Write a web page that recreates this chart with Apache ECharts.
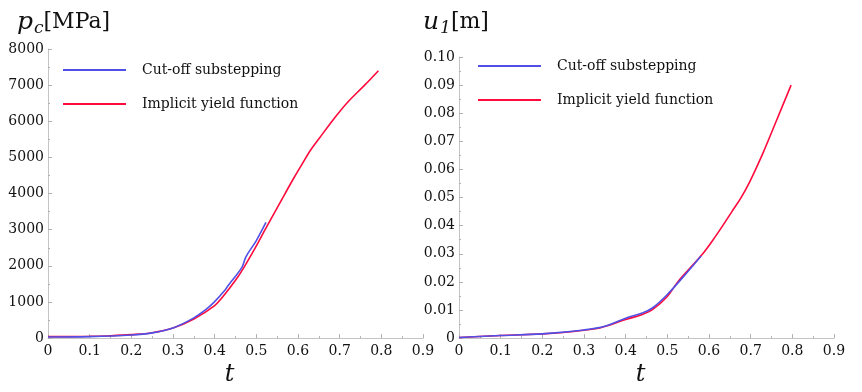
<!DOCTYPE html>
<html>
<head>
<meta charset="utf-8">
<script src="https://cdn.jsdelivr.net/npm/echarts@6/dist/echarts.min.js"></script>
<style>
  html, body { margin: 0; padding: 0; background: #fff; }
  #chart { width: 862px; height: 392px; }
</style>
</head>
<body>
<div id="chart"></div>
<script>
// 左图：p_c [MPa]
const pcImplicitT = [0, 0.05, 0.1, 0.15, 0.2, 0.25, 0.3, 0.35, 0.4, 0.42, 0.45, 0.47, 0.5, 0.521, 0.545, 0.569, 0.59, 0.61, 0.63, 0.653, 0.685, 0.717, 0.76, 0.793];
const pcImplicitV = [40, 42, 50, 65, 95, 150, 280, 530, 900, 1150, 1600, 1950, 2550, 3000, 3500, 4000, 4430, 4820, 5200, 5560, 6050, 6500, 7000, 7400];
const pcCutoffT = [0, 0.1, 0.2, 0.25, 0.3, 0.35, 0.38, 0.4, 0.425, 0.432, 0.465, 0.475, 0.5, 0.523];
const pcCutoffV = [30, 40, 85, 145, 280, 560, 800, 1010, 1330, 1450, 1950, 2250, 2700, 3200];

// 右图：u_1 [m]
const uImplicitT = [0, 0.1, 0.2, 0.25, 0.3, 0.34, 0.4, 0.44, 0.465, 0.5, 0.525, 0.555, 0.585, 0.61, 0.633, 0.655, 0.677, 0.698, 0.73, 0.762, 0.797];
const uImplicitV = [0.0002, 0.0009, 0.0015, 0.002, 0.0028, 0.0037, 0.0066, 0.0084, 0.0102, 0.0148, 0.02, 0.025, 0.03, 0.035, 0.04, 0.045, 0.05, 0.0557, 0.066, 0.0774, 0.09];
const uCutoffT = [0, 0.1, 0.2, 0.3, 0.35, 0.4, 0.44, 0.465, 0.5, 0.55, 0.581];
const uCutoffV = [0.0002, 0.0009, 0.0015, 0.0029, 0.0042, 0.0071, 0.0089, 0.0108, 0.0155, 0.0238, 0.0292];

const seriesNames = ['Cut-off substepping', 'Implicit yield function'];
const blue = '#5050e6';
const red = '#ff0a3c';
const serif = 'DejaVu Serif';

const zip = (ts, vs) => ts.map((t, i) => [t, vs[i]]);

const axisGray = '#c4c4c4';
const tickGray = '#b0b0b0';

// 横轴配置
const makeXAxis = (gridIndex) => ({
  type: 'value',
  gridIndex,
  min: 0,
  max: 0.9,
  interval: 0.1,
  name: 't',
  nameLocation: 'middle',
  nameGap: 23,
  nameTextStyle: { fontFamily: serif, fontStyle: 'italic', fontSize: 24, color: '#111', padding: [0, 12, 0, 0] },
  axisLine: { lineStyle: { color: axisGray, width: 1 } },
  axisTick: { inside: true, length: 4, lineStyle: { color: tickGray } },
  minorTick: { show: true, splitNumber: 2, length: 2, lineStyle: { color: tickGray } },
  axisLabel: {
    fontFamily: serif, fontSize: 14, color: '#111', margin: 6,
    formatter: (v) => (v === 0 ? '0' : v.toFixed(1)),
  },
  splitLine: { show: false },
});

// 竖轴配置
const makeYAxis = (gridIndex, max, interval, digits) => ({
  type: 'value',
  gridIndex,
  min: 0,
  max,
  interval,
  axisLine: { show: true, lineStyle: { color: axisGray, width: 1 } },
  axisTick: { show: true, inside: true, length: 4, lineStyle: { color: tickGray } },
  minorTick: { show: true, splitNumber: 2, length: 2, lineStyle: { color: tickGray } },
  axisLabel: {
    fontFamily: serif, fontSize: 14, color: '#111', margin: 4,
    formatter: (v) => (v === 0 ? '0' : v.toFixed(digits)),
  },
  splitLine: { show: false },
});

const lineSeries = (name, color, data, idx, z) => ({
  name,
  type: 'line',
  xAxisIndex: idx,
  yAxisIndex: idx,
  data,
  smooth: 0.35,
  symbol: 'none',
  lineStyle: { color, width: 1.6 },
  itemStyle: { color },
  z,
});

const legendCommon = {
  orient: 'vertical',
  data: seriesNames,
  icon: 'rect',
  itemWidth: 63,
  itemHeight: 2,
  itemGap: 4,
  selectedMode: false,
  textStyle: { fontFamily: serif, fontSize: 14, color: '#111', lineHeight: 20, padding: [0, 0, 10, 11] },
};

const titleRich = {
  i: { fontFamily: serif, fontStyle: 'italic', fontWeight: 'normal', fontSize: 25, color: '#111' },
  s: { fontFamily: serif, fontStyle: 'italic', fontWeight: 'normal', fontSize: 17, color: '#111', padding: [12, 0, 0, 1] },
  n: { fontFamily: serif, fontWeight: 'normal', fontSize: 22, color: '#111' },
};

const option = {
  animation: false,
  title: [
    { text: '{i|p}{s|c}{n|[MPa]}', left: 12, top: 3, textStyle: { fontWeight: 'normal', rich: titleRich } },
    { text: '{i|u}{s|1}{n|[m]}', left: 418, top: 3, textStyle: { fontWeight: 'normal', rich: titleRich } },
  ],
  legend: [
    { ...legendCommon, left: 58, top: 50 },
    { ...legendCommon, left: 473, top: 46 },
  ],
  grid: [
    { left: 48, top: 49, width: 375, height: 299 },
    { left: 459, top: 57, width: 375, height: 293 },
  ],
  xAxis: [makeXAxis(0), makeXAxis(1)],
  yAxis: [makeYAxis(0, 8000, 1000, 0), makeYAxis(1, 0.1, 0.01, 2)],
  series: [
    lineSeries(seriesNames[1], red, zip(pcImplicitT, pcImplicitV), 0, 2),
    lineSeries(seriesNames[0], blue, zip(pcCutoffT, pcCutoffV), 0, 3),
    lineSeries(seriesNames[1], red, zip(uImplicitT, uImplicitV), 1, 2),
    lineSeries(seriesNames[0], blue, zip(uCutoffT, uCutoffV), 1, 3),
  ],
};

const chart = echarts.init(document.getElementById('chart'), null, { renderer: 'canvas' });
chart.setOption(option);
</script>
</body>
</html>
